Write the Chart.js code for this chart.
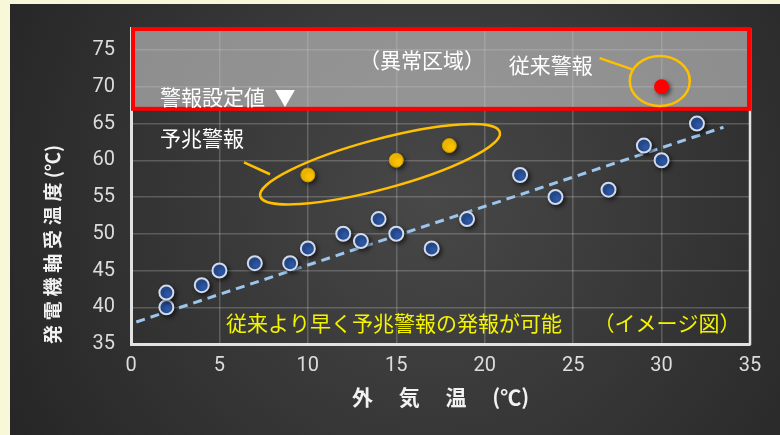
<!DOCTYPE html>
<html><head><meta charset="utf-8">
<script src="https://cdn.jsdelivr.net/npm/chart.js@4"></script>
<style>html,body{margin:0;padding:0;background:#f8f8d8;} #wrap{width:780px;height:435px;position:relative}</style>
</head><body><div id="wrap"><canvas id="c" width="780" height="435"></canvas></div>
<script>
// ---- data ----
const normalX = [2, 2, 4, 5, 7, 9, 10, 12, 13, 14, 15, 17, 19, 22, 24, 27, 29, 30, 32];
const normalY = [40, 42, 43, 45, 46, 46, 48, 50, 49, 52, 50, 48, 52, 58, 55, 56, 62, 60, 65];
const predictiveX = [10, 15, 18];
const predictiveY = [58, 60, 62];
const conventionalX = [30];
const conventionalY = [70];
const trendX = [0.3, 33.5];
const trendY = [38, 64.5];
const xTicks = [0, 5, 10, 15, 20, 25, 30, 35];
const yTicks = [35, 40, 45, 50, 55, 60, 65, 70, 75];
const alarmThreshold = 67;
const xTitle = '外\u3000 気\u3000 温\u3000 (℃)';
const yTitle = '発\u2005電\u2005機\u2005軸\u2005受\u2005温\u2005度 (℃)';
const labelAbnormal = '（異常区域）';
const labelConventional = '従来警報';
const labelThreshold = '警報設定値  ▼';
const labelPredictive = '予兆警報';
const labelNote = '従来より早く予兆警報の発報が可能　\u2002（イメージ図）';

const pts = (xs, ys) => xs.map((x, i) => ({x, y: ys[i]}));
const JP = '"Noto Sans CJK JP", "Noto Sans", sans-serif';
const NUM = '"Liberation Sans Narrow", "Roboto", "Noto Sans", sans-serif';

const decor = {
  id: 'decor',
  beforeDraw(chart) {
    const ctx = chart.ctx;
    ctx.save();
    ctx.fillStyle = '#f8f8d8';
    ctx.fillRect(0, 0, chart.width, chart.height);
    const g = ctx.createRadialGradient(430, 200, 0, 430, 200, 520);
    g.addColorStop(0, '#484848');
    g.addColorStop(1, '#232323');
    ctx.fillStyle = g;
    ctx.fillRect(10, 4, chart.width - 10, chart.height - 4);
    ctx.restore();
  },
  beforeDatasetsDraw(chart) {
    const {ctx, chartArea: a, scales: {x, y}} = chart;
    ctx.save();
    // abnormal zone
    const yb = y.getPixelForValue(alarmThreshold);
    ctx.fillStyle = 'rgba(200,200,200,0.62)';
    ctx.fillRect(a.left, a.top, a.right - a.left, yb - a.top);
    // right border of plot
    ctx.strokeStyle = '#e2e2e2';
    ctx.lineWidth = 2.5;
    ctx.beginPath(); ctx.moveTo(a.right, a.top); ctx.lineTo(a.right, a.bottom + 1); ctx.stroke();
    ctx.strokeStyle = '#ff0000';
    ctx.lineWidth = 4;
    ctx.strokeRect(a.left + 2, a.top + 1, a.right - a.left - 3, yb - a.top - 1);

    // texts
    ctx.textBaseline = 'middle';
    ctx.fillStyle = '#ffffff';
    ctx.font = '21px ' + JP;
    ctx.textAlign = 'center';
    ctx.fillText(labelAbnormal, x.getPixelForValue(16.45), y.getPixelForValue(73.65));
    ctx.fillText(labelConventional, x.getPixelForValue(23.74), y.getPixelForValue(73.0));
    ctx.textAlign = 'left';
    ctx.fillText(labelThreshold, x.getPixelForValue(1.64), y.getPixelForValue(68.65));
    ctx.fillText(labelPredictive, x.getPixelForValue(1.64), y.getPixelForValue(63.0));
    ctx.fillStyle = '#f4f400';
    ctx.fillText(labelNote, x.getPixelForValue(5.37), y.getPixelForValue(37.84));

    // ellipses and leaders
    ctx.strokeStyle = '#ffc000';
    ctx.lineWidth = 2.5;
    ctx.beginPath();
    ctx.ellipse(x.getPixelForValue(14.08), y.getPixelForValue(59.46), 124, 25, -15 * Math.PI / 180, 0, Math.PI * 2);
    ctx.stroke();
    ctx.beginPath();
    ctx.moveTo(x.getPixelForValue(6.39), y.getPixelForValue(59.73));
    ctx.lineTo(x.getPixelForValue(7.86), y.getPixelForValue(58.1));
    ctx.stroke();
    ctx.beginPath();
    ctx.ellipse(x.getPixelForValue(29.9), y.getPixelForValue(70.8), 30, 25, 0, 0, Math.PI * 2);
    ctx.stroke();
    ctx.beginPath();
    ctx.moveTo(x.getPixelForValue(26.5), y.getPixelForValue(73.9));
    ctx.lineTo(x.getPixelForValue(28.43), y.getPixelForValue(72.3));
    ctx.stroke();
    ctx.restore();
  },
  beforeDatasetDraw(chart, args) {
    const ctx = chart.ctx;
    ctx.save();
    if (args.meta.type !== 'line') {
      ctx.shadowColor = 'rgba(0,0,0,0.55)';
      ctx.shadowBlur = 4;
      ctx.shadowOffsetX = 2;
      ctx.shadowOffsetY = 2;
    }
  },
  afterDatasetDraw(chart) { chart.ctx.restore(); }
};

new Chart(document.getElementById('c'), {
  type: 'scatter',
  data: {
    datasets: [
      { label: '通常', data: pts(normalX, normalY), pointRadius: 7, pointHoverRadius: 7,
        backgroundColor: '#2d58a6', borderColor: '#d2dbec', borderWidth: 2, order: 1 },
      { label: '予兆警報', data: pts(predictiveX, predictiveY), pointRadius: 7, pointHoverRadius: 7,
        backgroundColor: '#ffc400', borderColor: '#d09a00', borderWidth: 1, order: 1 },
      { label: '従来警報', data: pts(conventionalX, conventionalY), pointRadius: 7.5, pointHoverRadius: 7.5,
        backgroundColor: '#ff0000', borderColor: '#ff0000', borderWidth: 0, order: 1 },
      { label: 'trend', type: 'line', data: pts(trendX, trendY), showLine: true, pointRadius: 0,
        borderColor: '#9cc6ec', borderWidth: 3, borderDash: [9, 6], fill: false, order: 2 }
    ]
  },
  options: {
    responsive: false,
    animation: false,
    events: [],
    layout: { padding: { left: 10, top: 25, right: 30, bottom: 0 } },
    plugins: { legend: { display: false }, tooltip: { enabled: false } },
    scales: {
      x: {
        type: 'linear', min: 0, max: 35,
        afterBuildTicks: s => { s.ticks = xTicks.map(v => ({value: v})); },
        afterFit: s => { s.height = 91; },
        grid: { color: 'rgba(255,255,255,0.2)', lineWidth: 1.5, drawTicks: false },
        border: { display: true, color: '#e2e2e2', width: 3 },
        ticks: { color: '#dcdcdc', font: { family: NUM, size: 20 }, padding: 10 },
        title: { display: true, text: xTitle, color: '#f2f2f2',
                 font: { family: JP, size: 21, weight: 'bold' }, padding: { top: 0, bottom: 25 } }
      },
      y: {
        type: 'linear', min: 35, max: 78,
        afterBuildTicks: s => { s.ticks = yTicks.map(v => ({value: v})); },
        afterFit: s => { s.width = 121; },
        grid: { color: 'rgba(255,255,255,0.2)', lineWidth: 1.5, drawTicks: false },
        border: { display: true, color: '#e2e2e2', width: 3 },
        ticks: { color: '#dcdcdc', font: { family: NUM, size: 20 }, padding: 16 },
        title: { display: true, text: yTitle, align: 'start', color: '#f2f2f2',
                 font: { family: JP, size: 19, weight: 'bold' }, padding: { top: 31, bottom: 0 } }
      }
    }
  },
  plugins: [decor]
});
</script>
</body></html>
